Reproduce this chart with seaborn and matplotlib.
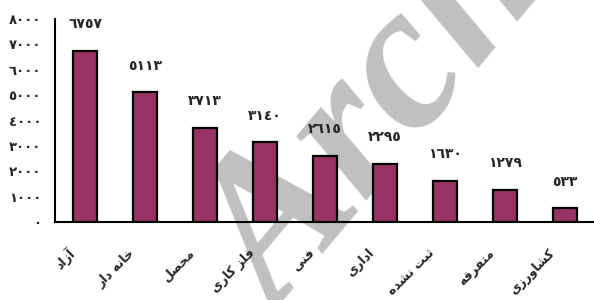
import matplotlib
matplotlib.use('Agg')
import matplotlib.pyplot as plt
import matplotlib.transforms as mtransforms
import seaborn as sns
import numpy as np
import pandas as pd

# data
categories = ['آزاد', 'خانه دار', 'محصل', 'فلز کاری', 'فنی', 'اداری', 'ثبت نشده', 'متفرقه', 'کشاورزی']
counts = [6757, 5113, 3713, 3140, 2615, 2295, 1630, 1279, 533]
y_ticks = [0, 1000, 2000, 3000, 4000, 5000, 6000, 7000, 8000]

# matplotlib has no arabic shaping, so map letters to presentation forms
FORMS = {
    'آ': ('\uFE81', '\uFE82'), 'ا': ('\uFE8D', '\uFE8E'), 'د': ('\uFEA9', '\uFEAA'),
    'ر': ('\uFEAD', '\uFEAE'), 'ز': ('\uFEAF', '\uFEB0'), 'و': ('\uFEED', '\uFEEE'),
    'ب': ('\uFE8F', '\uFE90', '\uFE91', '\uFE92'), 'ت': ('\uFE95', '\uFE96', '\uFE97', '\uFE98'),
    'ث': ('\uFE99', '\uFE9A', '\uFE9B', '\uFE9C'), 'ح': ('\uFEA1', '\uFEA2', '\uFEA3', '\uFEA4'),
    'خ': ('\uFEA5', '\uFEA6', '\uFEA7', '\uFEA8'), 'ش': ('\uFEB5', '\uFEB6', '\uFEB7', '\uFEB8'),
    'ص': ('\uFEB9', '\uFEBA', '\uFEBB', '\uFEBC'), 'ف': ('\uFED1', '\uFED2', '\uFED3', '\uFED4'),
    'ق': ('\uFED5', '\uFED6', '\uFED7', '\uFED8'), 'ک': ('\uFB8E', '\uFB8F', '\uFB90', '\uFB91'),
    'ل': ('\uFEDD', '\uFEDE', '\uFEDF', '\uFEE0'), 'م': ('\uFEE1', '\uFEE2', '\uFEE3', '\uFEE4'),
    'ن': ('\uFEE5', '\uFEE6', '\uFEE7', '\uFEE8'), 'ه': ('\uFEE9', '\uFEEA', '\uFEEB', '\uFEEC'),
    'ی': ('\uFBFC', '\uFBFD', '\uFBFE', '\uFBFF'),
}


def shape(text):
    out = []
    for i, ch in enumerate(text):
        if ch not in FORMS:
            out.append(ch)
            continue
        prev = text[i - 1] if i > 0 else ''
        nxt = text[i + 1] if i < len(text) - 1 else ''
        join_prev = prev in FORMS and len(FORMS[prev]) == 4
        join_next = nxt in FORMS and len(FORMS[ch]) == 4
        if join_prev and join_next:
            idx = 3
        elif join_prev:
            idx = 1
        elif join_next:
            idx = 2
        else:
            idx = 0
        out.append(FORMS[ch][idx])
    return ''.join(reversed(out))


def fa_digits(n):
    return str(n).translate(str.maketrans('0123456789', '٠١٢٣٤٥٦٧٨٩'))


df = pd.DataFrame({'job': categories, 'count': counts})

sns.set_theme(style='white')
plt.rcParams['font.family'] = ['DejaVu Sans']
plt.rcParams['font.weight'] = 'bold'

fig = plt.figure(figsize=(5.94, 3.0), dpi=100)
ax = fig.add_axes([55 / 594, 78 / 300, 540 / 594, 203 / 300])

# watermark, drawn inside the axes at low zorder so the bars sit on top
ax.text(0.47, -0.06, 'Archive', transform=fig.transFigure, clip_on=False,
        fontsize=150, color='#c0c0c0', rotation=50, rotation_mode='anchor',
        family='Liberation Serif', weight='bold', style='italic',
        ha='left', va='baseline', zorder=0)

sns.barplot(data=df, x='job', y='count', color='#993366', saturation=1,
            edgecolor='black', linewidth=1.6, width=0.4, ax=ax, zorder=2)

for i, v in enumerate(counts):
    ax.annotate(fa_digits(v), (i, v), xytext=(0, 14), textcoords='offset points',
                ha='center', va='bottom', fontsize=10, fontweight='bold')

ax.set_xlim(-0.5, len(categories) - 0.5)
ax.set_ylim(0, 8000)
ax.set_yticks(y_ticks)
ax.set_yticklabels([fa_digits(t) for t in y_ticks], fontsize=9.5, fontweight='bold')
ax.set_xticks(range(len(categories)))
ax.set_xticklabels([shape(c) for c in categories], rotation=45, ha='right',
                   va='center', rotation_mode='anchor', fontsize=9, fontweight='bold')
ax.set_xticks(np.arange(-0.5, len(categories), 1), minor=True)
ax.tick_params(axis='x', which='major', length=0, pad=0)
ax.tick_params(axis='x', which='minor', length=6, width=1.5, direction='out', color='black')
ax.tick_params(axis='y', length=6, width=1.5, direction='out', color='black', pad=4)

offset = mtransforms.ScaledTranslation(-9 / 72, -21 / 72, fig.dpi_scale_trans)
for lab in ax.get_xticklabels():
    lab.set_transform(lab.get_transform() + offset)

ax.set_xlabel('')
ax.set_ylabel('')
for side in ['top', 'right']:
    ax.spines[side].set_visible(False)
for side in ['left', 'bottom']:
    ax.spines[side].set_color('black')
    ax.spines[side].set_linewidth(1.5)
    ax.spines[side].set_zorder(3)

plt.savefig('out.png', dpi=100)
